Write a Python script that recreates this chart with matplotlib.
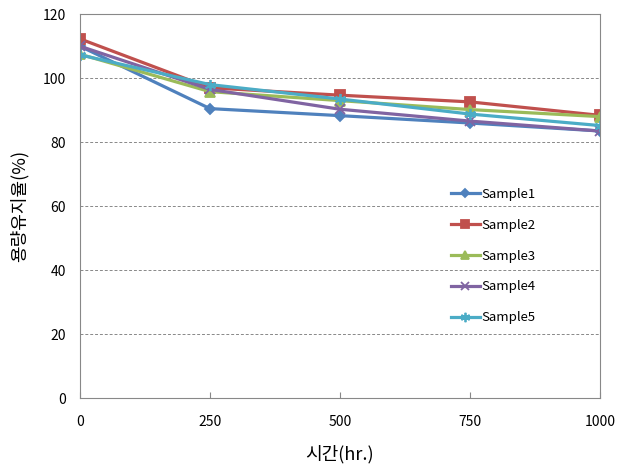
import numpy as np
import matplotlib.pyplot as plt

plt.rcParams['font.family'] = ['Noto Sans CJK KR', 'DejaVu Sans']

hours = [0, 250, 500, 750, 1000]
sample1 = [110.0, 90.5, 88.3, 86.0, 83.5]
sample2 = [112.3, 97.0, 94.7, 92.6, 88.4]
sample3 = [107.5, 95.8, 93.0, 90.2, 88.0]
sample4 = [110.0, 96.5, 90.3, 86.6, 83.5]
sample5 = [107.3, 98.0, 93.5, 88.8, 85.2]
names = ['Sample1', 'Sample2', 'Sample3', 'Sample4', 'Sample5']

colors = ['#4F81BD', '#C0504D', '#9BBB59', '#8064A2', '#4BACC6']
markers = ['D', 's', '^', 'x', (6, 2, 0)]
msizes = [5, 6.5, 6.5, 7, 8]

fig = plt.figure(figsize=(6.3, 4.75), dpi=100)
ax = fig.add_axes([0.127, 0.162, 0.825, 0.808])

for ys, nm, c, m, ms in zip([sample1, sample2, sample3, sample4, sample5],
                            names, colors, markers, msizes):
    ax.plot(hours, ys, color=c, lw=2.3, marker=m, ms=ms, mew=1.3,
            mec=c, mfc=c, label=nm)

ax.set_xlim(0, 1000)
ax.set_ylim(0, 120)
ax.set_xticks(hours)
ax.set_yticks(np.arange(0, 121, 20))
ax.yaxis.grid(True, ls=(0, (3, 2)), color='#888888', lw=0.7)
for s in ax.spines.values():
    s.set_color('#888888')
ax.tick_params(axis='x', direction='in', length=4, color='#888888',
               labelsize=10, pad=12)
ax.tick_params(axis='y', direction='out', length=0, labelsize=10, pad=10)
ax.set_xlabel('시간(hr.)', fontsize=13, labelpad=12)
ax.set_ylabel('용량유지율(%)', fontsize=13, labelpad=10)

ax.legend(loc='center left', bbox_to_anchor=(0.69, 0.37), frameon=False,
          fontsize=9.5, handlelength=2.2, handletextpad=0.1,
          labelspacing=1.35, markerscale=0.85)

fig.savefig('out.png', dpi=100)
